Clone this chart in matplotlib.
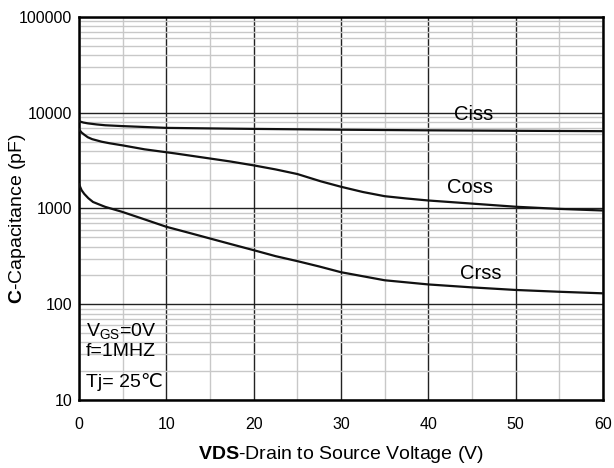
import numpy as np
import matplotlib
matplotlib.use('Agg')
import matplotlib.pyplot as plt
from matplotlib.ticker import LogLocator, MultipleLocator, FixedFormatter, FixedLocator

plt.rcParams['font.family'] = ['Liberation Sans', 'DejaVu Sans']
plt.rcParams['mathtext.fontset'] = 'custom'
plt.rcParams['mathtext.rm'] = 'Liberation Sans'
plt.rcParams['mathtext.it'] = 'Liberation Sans:italic'
plt.rcParams['mathtext.bf'] = 'Liberation Sans:bold'

# curves (V, pF)
v_ciss = [0, 0.5, 1, 2, 3, 5, 7.5, 10, 15, 20, 30, 40, 50, 60]
ciss = [8150, 7900, 7750, 7550, 7400, 7250, 7100, 6950, 6860, 6780, 6650, 6550, 6480, 6420]

v_coss = [0, 0.3, 0.6, 1, 1.5, 2.6, 3.5, 5, 7.5, 11, 14, 17.3, 20, 22.5, 25, 27.7,
          30, 32.5, 35, 37.5, 40, 43.7, 50, 55, 60]
coss = [6700, 6200, 5900, 5550, 5300, 4980, 4800, 4560, 4150, 3760, 3430, 3100, 2820,
        2560, 2290, 1920, 1686, 1487, 1344, 1272, 1212, 1147, 1043, 990, 953]

v_crss = [0, 0.3, 0.6, 1.07, 1.6, 2.6, 3, 4.9, 7.5, 10, 12.5, 15, 17.5, 20, 22.5, 25,
          27.5, 30, 35, 40, 45, 50, 55, 60]
crss = [1790, 1550, 1420, 1280, 1170, 1075, 1040, 925, 770, 644, 560, 486, 422, 367,
        318, 282, 248, 216, 178, 161, 150, 141, 135, 130]

x_ticks = [0, 10, 20, 30, 40, 50, 60]
y_ticks = [10, 100, 1000, 10000, 100000]
y_tick_labels = ['10', '100', '1000', '10000', '100000']

fig = plt.figure(figsize=(6.14, 4.68), dpi=100)
ax = fig.add_axes([0.1287, 0.1453, 0.8534, 0.8184])

ax.set_yscale('log')
ax.set_xlim(0, 60)
ax.set_ylim(10, 100000)

ax.yaxis.set_major_locator(FixedLocator(y_ticks))
ax.yaxis.set_major_formatter(FixedFormatter(y_tick_labels))
ax.yaxis.set_minor_locator(LogLocator(base=10, subs=np.arange(2, 10)))
ax.yaxis.set_minor_formatter(FixedFormatter([]))
ax.xaxis.set_major_locator(FixedLocator(x_ticks))
ax.xaxis.set_minor_locator(MultipleLocator(5))

ax.grid(which='minor', color='#c8c8c8', lw=1.0, zorder=0)
ax.grid(which='major', color='#222222', lw=1.0, zorder=1)
ax.set_axisbelow(True)

for s in ax.spines.values():
    s.set_linewidth(1.8)
    s.set_color('black')

ax.tick_params(which='both', length=0, labelsize=11.5)
ax.tick_params(axis='x', pad=12)
ax.tick_params(axis='y', pad=5)

ax.plot(v_ciss, ciss, color='#111111', lw=1.6, zorder=3)
ax.plot(v_coss, coss, color='#111111', lw=1.6, zorder=3)
ax.plot(v_crss, crss, color='#111111', lw=1.6, zorder=3)

ax.text(45.2, 9500, 'Ciss', fontsize=14.5, ha='center', va='center')
ax.text(44.8, 1675, 'Coss', fontsize=14.5, ha='center', va='center')
ax.text(46.0, 208, 'Crss', fontsize=14.5, ha='center', va='center')

ax.text(0.8, 52, r'V$_{\mathrm{GS}}$=0V', fontsize=14, va='center')
ax.text(0.8, 32, 'f=1MHZ', fontsize=14, va='center')
ax.text(0.8, 15.6, 'Tj= 25\u2103', fontsize=14, va='center')

ax.set_xlabel(r'$\mathbf{VDS}$-Drain to Source Voltage (V)', fontsize=14, labelpad=9)
ax.set_ylabel(r'$\mathbf{C}$-Capacitance (pF)', fontsize=14)
ax.yaxis.set_label_coords(-0.097, 0.475)

fig.savefig('out.png', dpi=100)
